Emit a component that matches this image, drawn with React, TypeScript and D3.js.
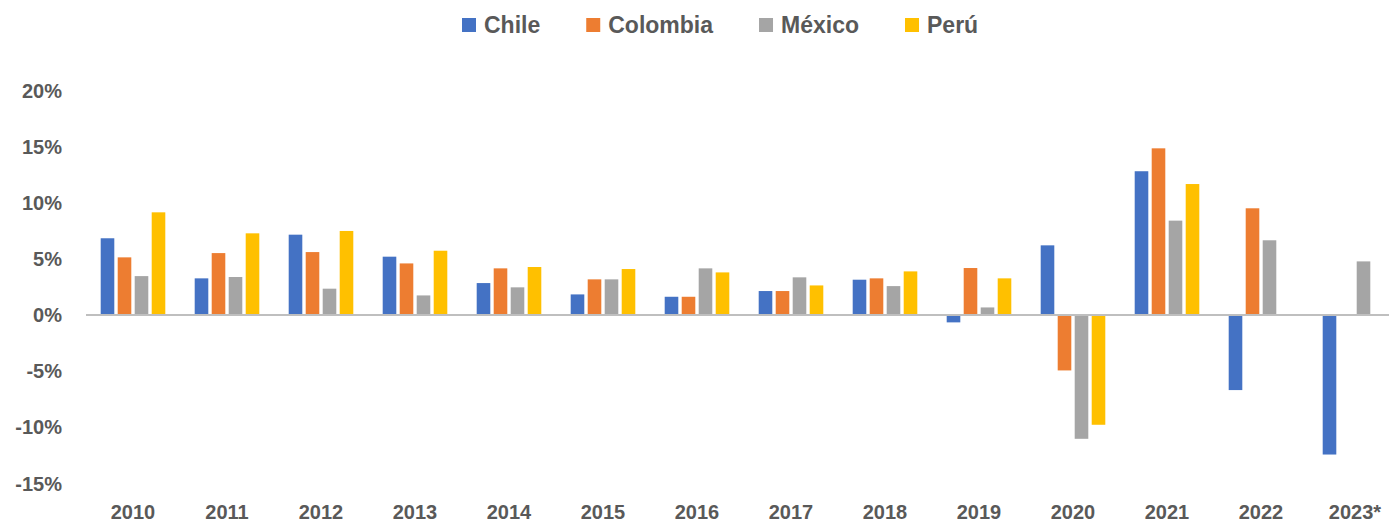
import { useEffect, useRef } from "react";
import * as d3 from "d3";

const years = ["2010", "2011", "2012", "2013", "2014", "2015", "2016", "2017", "2018", "2019", "2020", "2021", "2022", "2023*"];
const seriesNames = ["Chile", "Colombia", "México", "Perú"];
const seriesColors = ["#4472C4", "#ED7D31", "#A5A5A5", "#FFC000"];

const chile = [6.84, 3.27, 7.16, 5.2, 2.85, 1.84, 1.63, 2.14, 3.15, -0.65, 6.21, 12.81, -6.68, -12.42];
const colombia = [5.14, 5.52, 5.61, 4.6, 4.16, 3.18, 1.63, 2.14, 3.27, 4.19, -4.93, 14.85, 9.51, null];
const mexico = [3.47, 3.39, 2.35, 1.75, 2.47, 3.18, 4.16, 3.36, 2.58, 0.68, -11.02, 8.41, 6.66, 4.78];
const peru = [9.15, 7.28, 7.49, 5.73, 4.28, 4.1, 3.8, 2.64, 3.89, 3.27, -9.77, 11.67, null, null];

const yTicks = [-15, -10, -5, 0, 5, 10, 15, 20];

const WIDTH = 1389;
const HEIGHT = 524;
const FONT = "'Liberation Sans', Arial, sans-serif";
const TEXT = "#595959";

export default function App() {
  const svgRef = useRef<SVGSVGElement>(null);

  useEffect(() => {
    if (!svgRef.current) return;
    const svg = d3.select(svgRef.current);
    svg.selectAll("*").remove();

    const values = [chile, colombia, mexico, peru];
    const left = 86;
    const band = 94;

    const x0 = d3.scaleBand<string>()
      .domain(years)
      .range([left, left + band * years.length])
      .paddingInner(0)
      .paddingOuter(0);

    const groupW = 64.6;
    const x1 = d3.scaleBand<string>()
      .domain(seriesNames)
      .range([(band - groupW) / 2, (band + groupW) / 2])
      .paddingInner(0.2);

    const y = d3.scaleLinear().domain([-15, 20]).range([483.5, 90.5]);

    // bars
    seriesNames.forEach((name, si) => {
      const data = values[si];
      svg.append("g")
        .selectAll("rect")
        .data(data.map((v, i) => ({ v, year: years[i] })).filter(d => d.v !== null))
        .join("rect")
        .attr("x", d => x0(d.year)! + x1(name)!)
        .attr("width", x1.bandwidth())
        .attr("y", d => y(Math.max(0, d.v as number)))
        .attr("height", d => Math.abs(y(d.v as number) - y(0)))
        .attr("fill", seriesColors[si]);
    });

    // zero line
    svg.append("line")
      .attr("x1", left)
      .attr("x2", WIDTH)
      .attr("y1", y(0))
      .attr("y2", y(0))
      .attr("stroke", "#BFBFBF")
      .attr("stroke-width", 2);

    // y labels
    svg.append("g")
      .selectAll("text")
      .data(yTicks)
      .join("text")
      .attr("x", 62)
      .attr("y", d => y(d) + 7)
      .attr("text-anchor", "end")
      .attr("font-family", FONT)
      .attr("font-weight", "bold")
      .attr("font-size", "20px")
      .attr("fill", TEXT)
      .text(d => `${d}%`);

    // x labels
    svg.append("g")
      .selectAll("text")
      .data(years)
      .join("text")
      .attr("x", d => x0(d)! + band / 2)
      .attr("y", 519)
      .attr("text-anchor", "middle")
      .attr("font-family", FONT)
      .attr("font-weight", "bold")
      .attr("font-size", "20px")
      .attr("fill", TEXT)
      .text(d => d);

    // legend
    const legend = svg.append("g").attr("transform", "translate(462,0)");
    let lx = 0;
    seriesNames.forEach((name, i) => {
      const item = legend.append("g").attr("transform", `translate(${lx},0)`);
      item.append("rect")
        .attr("x", 0)
        .attr("y", 18)
        .attr("width", 14)
        .attr("height", 14)
        .attr("fill", seriesColors[i]);
      const t = item.append("text")
        .attr("x", 22)
        .attr("y", 33)
        .attr("font-family", FONT)
        .attr("font-weight", "bold")
        .attr("font-size", "23px")
        .attr("fill", TEXT)
        .text(name);
      const w = (t.node() as SVGTextElement).getComputedTextLength();
      lx += 22 + w + 46;
    });
  }, []);

  return (
    <svg
      ref={svgRef}
      width={WIDTH}
      height={HEIGHT}
      style={{ position: "absolute", left: 0, top: 0, background: "#fff" }}
    />
  );
}
